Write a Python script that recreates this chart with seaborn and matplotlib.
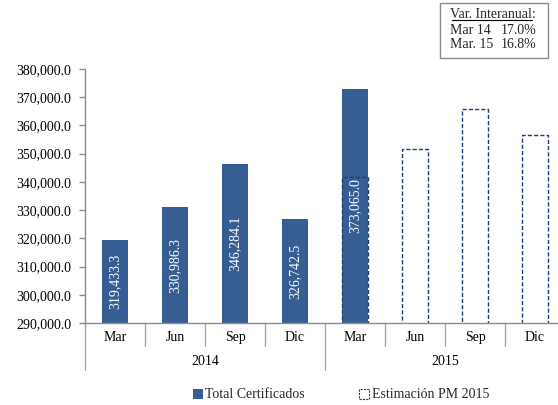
import matplotlib
matplotlib.use("Agg")
import matplotlib.pyplot as plt
from matplotlib.patches import Patch, Rectangle
from matplotlib.lines import Line2D
import matplotlib.ticker as mticker
import numpy as np
import pandas as pd
import seaborn as sns

# ---- data ----
years = ["2014", "2014", "2014", "2014", "2015", "2015", "2015", "2015"]
months = ["Mar", "Jun", "Sep", "Dic", "Mar", "Jun", "Sep", "Dic"]
total_cert = [319433.3, 330986.3, 346284.1, 326742.5, 373065.0, np.nan, np.nan, np.nan]
estimacion = [np.nan, np.nan, np.nan, np.nan, 341800.0, 351500.0, 365700.0, 356600.0]
total_labels = ["319,433.3", "330,986.3", "346,284.1", "326,742.5", "373,065.0"]
var_rows = [("Mar 14", "17.0%"), ("Mar. 15", "16.8%")]

sns.set_theme(style="white")
plt.rcParams["font.family"] = ["Liberation Serif", "DejaVu Serif"]

cats = [f"{m} {y}" for m, y in zip(months, years)]
df = pd.DataFrame({"cat": cats, "total": total_cert, "est": estimacion})

W, H = 558, 405
fig = plt.figure(figsize=(W / 100, H / 100), dpi=100)
ax = fig.add_axes([85 / W, 82 / H, 480 / W, 254 / H])

blue = "#365E93"
sns.barplot(data=df, x="cat", y="total", order=cats, color=blue, width=0.42,
            saturation=1, ax=ax, edgecolor="none")
sns.barplot(data=df, x="cat", y="est", order=cats, fill=False, width=0.42,
            ax=ax, edgecolor="#1F3F6E", linestyle=(0, (3, 1.5)), linewidth=1.0)

ax.set_ylim(290000, 380000)
ax.set_xlim(-0.5, 7.5)
ax.yaxis.set_major_locator(mticker.MultipleLocator(10000))
ax.yaxis.set_major_formatter(mticker.FuncFormatter(lambda v, p: f"{v:,.1f}"))
ax.set_xlabel("")
ax.set_ylabel("")

for s in ["top", "right"]:
    ax.spines[s].set_visible(False)
for s in ["left", "bottom"]:
    ax.spines[s].set_color("#8C8C8C")
    ax.spines[s].set_linewidth(1.0)

ax.tick_params(axis="y", which="both", left=True, length=4, width=1, color="#8C8C8C",
               labelsize=10, labelcolor="black", pad=6)
ax.set_xticks(range(len(cats)))
ax.set_xticklabels(months, fontsize=10, color="black")
ax.tick_params(axis="x", length=0, pad=6)

# bar value labels
for i, (v, lab) in enumerate(zip(total_cert, total_labels)):
    ax.text(i, (290000 + v) / 2, lab, rotation=90, ha="center", va="center",
            color="white", fontsize=10)

# category separators
trans = ax.get_xaxis_transform()
for b in np.arange(-0.5, 8, 1.0):
    is_year = b in (-0.5, 3.5, 7.5)
    ax.plot([b, b], [0, -0.185 if is_year else -0.09], transform=trans,
            color="#A6A6A6", lw=1.0, clip_on=False)

# year labels
for j, y in enumerate(["2014", "2015"]):
    ax.text(1.5 + 4 * j, -0.15, y, transform=trans, ha="center", va="center",
            fontsize=10, color="black")

# legend
handles = [Patch(facecolor=blue, edgecolor="none", label="Total Certificados"),
           Patch(facecolor="white", edgecolor="#1F3F6E", linestyle=(0, (2, 1)),
                 linewidth=0.8, label="Estimación PM 2015")]
fig.legend(handles=handles, loc="center", bbox_to_anchor=(341 / W, 1 - 395 / H),
           ncol=2, frameon=False, fontsize=10, handlelength=0.7, handleheight=0.7,
           handletextpad=0.2, columnspacing=3.9)

# variation box
fig.patches.append(Rectangle((440 / W, 1 - 58 / H), 108 / W, 55 / H,
                             transform=fig.transFigure, facecolor="white",
                             edgecolor="#8C8C8C", linewidth=1.0))
fig.text(493 / W, 1 - 14 / H, "Var. Interanual:", ha="center", va="center", fontsize=10)
fig.add_artist(Line2D([452 / W, 532 / W], [1 - 20 / H, 1 - 20 / H],
                      transform=fig.transFigure, color="black", lw=0.8))
for k, (a, b) in enumerate(var_rows):
    yy = 1 - (30 + 15 * k) / H
    fig.text(450 / W, yy, a, ha="left", va="center", fontsize=10)
    fig.text(536 / W, yy, b, ha="right", va="center", fontsize=10)

fig.savefig("out.png", dpi=100)
